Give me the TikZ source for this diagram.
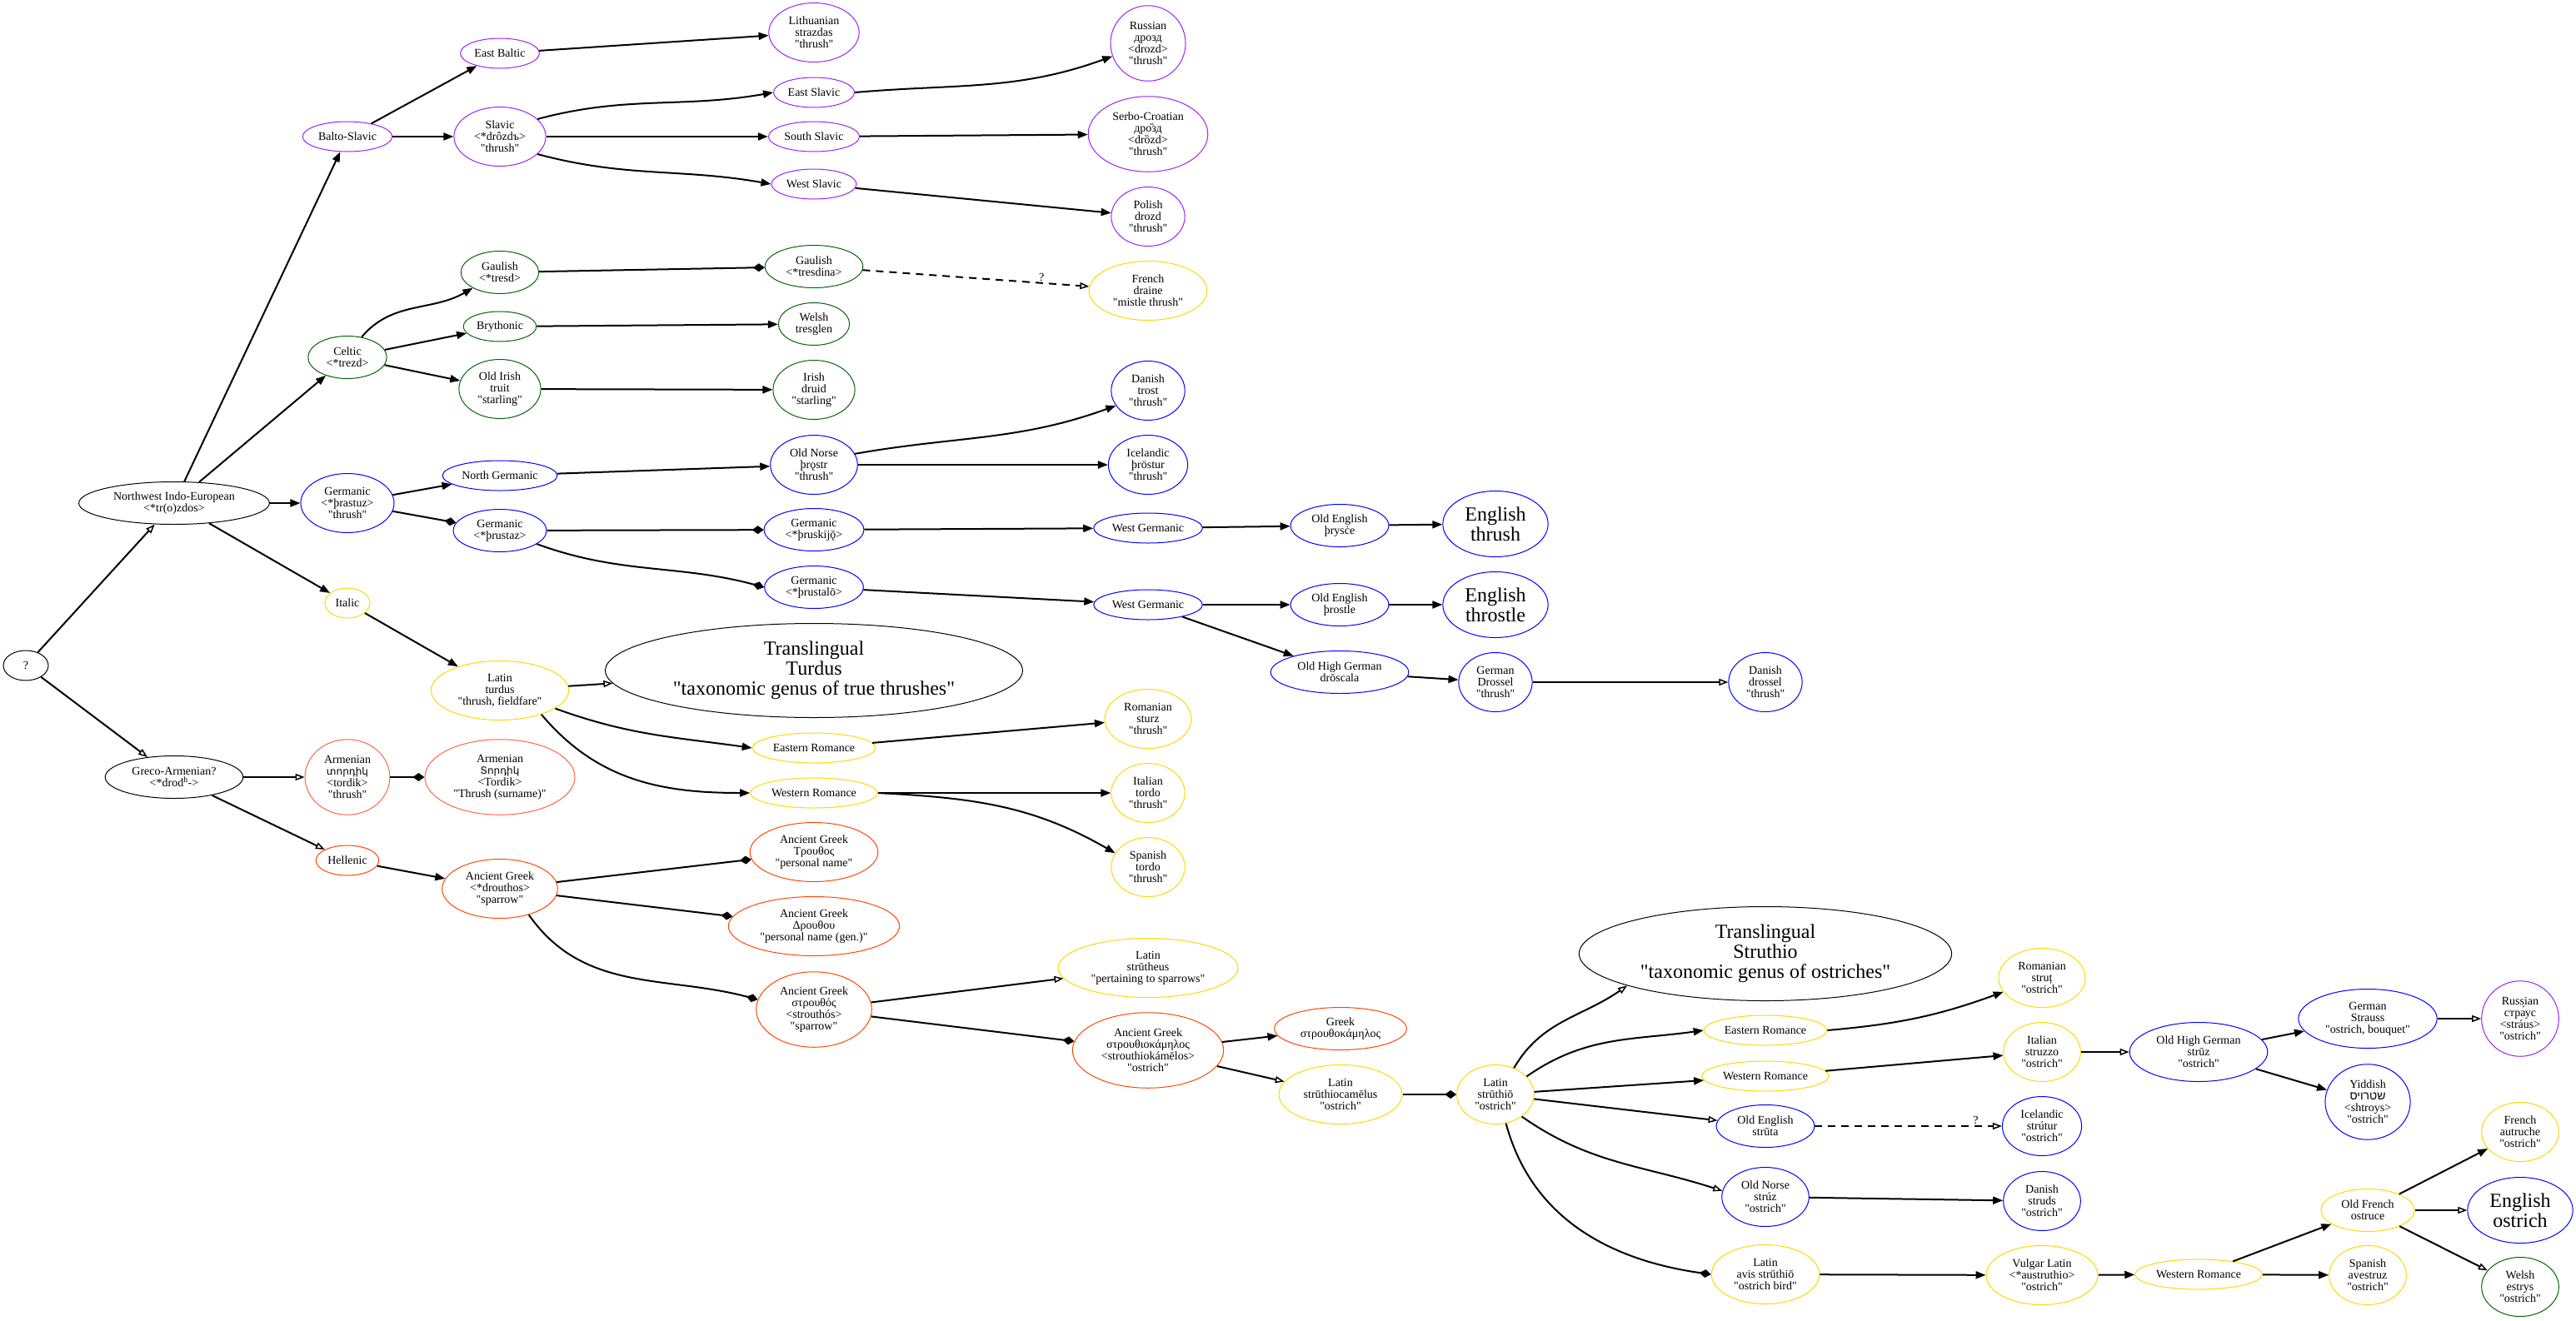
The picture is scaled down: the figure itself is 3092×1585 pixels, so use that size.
\documentclass[tikz,border=0pt]{standalone}
\usepackage{fontspec}
\setmainfont{Liberation Serif}[Ligatures=TeXOff]
\newfontfamily\armfont{DejaVu Sans}
\newfontfamily\hebfont[Script=Hebrew]{Liberation Sans}
\TeXXeTstate=1
\usetikzlibrary{shapes.geometric,arrows.meta}
\definecolor{cpur}{HTML}{A020F0}
\definecolor{cgrn}{HTML}{006400}
\definecolor{cblu}{HTML}{0000FF}
\definecolor{cyel}{HTML}{FFD700}
\definecolor{cred}{HTML}{FF4500}
\definecolor{ctom}{HTML}{FF6347}
\newcommand\armtxt[1]{{\armfont\fontsize{12}{14}\selectfont #1}}
\newcommand\hebtxt[1]{{\hebfont\beginR #1\endR}}
\tikzset{
 nd/.style={ellipse, draw, line width=1pt, align=center, inner ysep=0pt, inner xsep=8pt, minimum width=54pt, font=\fontsize{14}{14}\selectfont},
 la/.style={nd, inner xsep=3pt, minimum height=36pt},
 lb/.style={nd, minimum height=51pt},
 lc/.style={nd, minimum height=71pt},
 ld/.style={nd, minimum height=90.5pt},
 bb/.style={nd, minimum height=79pt, font=\fontsize{24}{24}\selectfont},
 bc/.style={nd, minimum height=113pt, font=\fontsize{24}{24}\selectfont},
 colP/.style={draw=cpur}, colG/.style={draw=cgrn}, colB/.style={draw=cblu},
 colY/.style={draw=cyel}, colR/.style={draw=cred}, colT/.style={draw=ctom}, colK/.style={draw=black},
 lnk/.style={line width=2pt},
 fa/.style={lnk, -{Triangle[length=12pt,width=9pt]}},
 ha/.style={lnk, -{Triangle[open,length=11pt,width=8pt,line width=1.5pt]}},
 da/.style={lnk, -{Diamond[length=14pt,width=10pt]}},
 dsh/.style={dash pattern=on 9pt off 7pt},
 qlbl/.style={font=\fontsize{14}{14}\selectfont, inner sep=1pt, above},
}
\begin{document}
\begin{tikzpicture}[x=1pt,y=1pt]
\useasboundingbox (0,0) rectangle (3092,-1585);
% column 0-2
\node[la,colK] (root) at (31,-799) {?};
\node[lb,colK] (nwie) at (209,-604) {Northwest Indo-European\\<*tr(o)zdos>};
\node[lb,colK] (grarm) at (209,-933) {Greco-Armenian?\\<*drod\textsuperscript{h}->};
\node[la,colP] (balsl) at (417,-164) {Balto-Slavic};
\node[lb,colG] (celtic) at (417,-429) {Celtic\\<*trezd>};
\node[lc,colB] (germ) at (417,-604) {Germanic\\<*þrastuz>\\"thrush"};
\node[la,colY] (italic) at (417,-724) {Italic};
\node[ld,colT] (arm) at (417,-933) {Armenian\\\armtxt{տորդիկ}\\<tordik>\\"thrush"};
\node[la,colR] (hell) at (417,-1033) {Hellenic};
% column 3
\node[la,colP] (ebalt) at (600,-64) {East Baltic};
\node[lc,colP] (slavic) at (600,-164) {Slavic\\<*drôzdъ>\\"thrush"};
\node[lb,colG] (gaul1) at (600,-327) {Gaulish\\<*tresd>};
\node[la,colG] (bryth) at (600,-392) {Brythonic};
\node[lc,colG] (oir) at (600,-467) {Old Irish\\truit\\"starling"};
\node[la,colB] (ngerm) at (600,-571) {North Germanic};
\node[lb,colB] (gthr) at (600,-637) {Germanic\\<*þrustaz>};
\node[lc,colY] (latturd) at (600,-829) {Latin\\turdus\\"thrush, fieldfare"};
\node[ld,colT] (armT) at (600,-933) {Armenian\\\armtxt{Տորդիկ}\\<Tordik>\\"Thrush (surname)"};
\node[lc,colR] (agdr) at (600,-1067) {Ancient Greek\\<*drouthos>\\"sparrow"};
% column 4
\node[lc,colP] (lith) at (977,-39) {Lithuanian\\strazdas\\"thrush"};
\node[la,colP] (eslav) at (977,-111) {East Slavic};
\node[la,colP] (sslav) at (977,-164) {South Slavic};
\node[la,colP] (wslav) at (977,-221) {West Slavic};
\node[lb,colG] (gaul2) at (977,-320) {Gaulish\\<*tresdina>};
\node[lb,colG] (welsh) at (977,-389) {Welsh\\tresglen};
\node[lc,colG] (irish) at (977,-468) {Irish\\druid\\"starling"};
\node[lc,colB] (onorse) at (977,-558) {Old Norse\\þrǫstr\\"thrush"};
\node[lb,colB] (gskij) at (977,-636) {Germanic\\<*þruskijǭ>};
\node[lb,colB] (gstal) at (977,-705) {Germanic\\<*þrustalō>};
\node[bc,colK] (turdus) at (977,-805) {Translingual\\Turdus\\"taxonomic genus of true thrushes"};
\node[la,colY] (eromA) at (977,-898) {Eastern Romance};
\node[la,colY] (wromA) at (977,-952) {Western Romance};
\node[lc,colR] (agtr) at (977,-1023) {Ancient Greek\\Τρουθος\\"personal name"};
\node[lc,colR] (agdrou) at (977,-1112) {Ancient Greek\\Δρουθου\\"personal name (gen.)"};
\node[ld,colR] (agstr) at (977,-1212) {Ancient Greek\\στρουθός\\<strouthós>\\"sparrow"};
% column 5
\node[ld,colP] (russ) at (1378,-52) {Russian\\дрозд\\<drozd>\\"thrush"};
\node[ld,colP] (serbo) at (1378,-161) {Serbo-Croatian\\дро̏зд\\<drȍzd>\\"thrush"};
\node[lc,colP] (polish) at (1378,-260) {Polish\\drozd\\"thrush"};
\node[lc,colY] (french) at (1378,-349) {French\\draine\\"mistle thrush"};
\node[lc,colB] (dantr) at (1378,-469) {Danish\\trost\\"thrush"};
\node[lc,colB] (icel) at (1378,-558) {Icelandic\\þröstur\\"thrush"};
\node[la,colB] (wg1) at (1378,-634) {West Germanic};
\node[la,colB] (wg2) at (1378,-726) {West Germanic};
\node[lc,colY] (rom) at (1378,-863) {Romanian\\sturz\\"thrush"};
\node[lc,colY] (ital) at (1378,-952) {Italian\\tordo\\"thrush"};
\node[lc,colY] (span) at (1378,-1041) {Spanish\\tordo\\"thrush"};
\node[lc,colY] (latstrth) at (1378,-1162) {Latin\\strūtheus\\"pertaining to sparrows"};
\node[ld,colR] (agstrk) at (1378,-1261) {Ancient Greek\\στρουθιοκάμηλος\\<strouthiokámēlos>\\"ostrich"};
% column 6-7
\node[lb,colB] (oe1) at (1608,-631) {Old English\\þrysċe};
\node[lb,colB] (oe2) at (1608,-726) {Old English\\þrostle};
\node[lb,colB] (ohg) at (1608,-807) {Old High German\\drōscala};
\node[lb,colR] (grk) at (1609,-1235) {Greek\\στρουθοκάμηλος};
\node[lc,colY] (latstrc) at (1609,-1314) {Latin\\strūthiocamēlus\\"ostrich"};
\node[bb,colB] (eng1) at (1795,-629) {English\\thrush};
\node[bb,colB] (eng2) at (1795,-726) {English\\throstle};
\node[lc,colB] (gerdr) at (1795,-819) {German\\Drossel\\"thrush"};
\node[lc,colY] (latstr) at (1795,-1314) {Latin\\strūthiō\\"ostrich"};
% column 8
\node[lc,colB] (dandr) at (2119,-819) {Danish\\drossel\\"thrush"};
\node[bc,colK] (struthio) at (2119,-1145) {Translingual\\Struthio\\"taxonomic genus of ostriches"};
\node[la,colY] (eromB) at (2119,-1237) {Eastern Romance};
\node[la,colY] (wromB) at (2119,-1292) {Western Romance};
\node[lb,colB] (oestr) at (2119,-1352) {Old English\\strūta};
\node[lc,colB] (onstr) at (2119,-1437) {Old Norse\\strúz\\"ostrich"};
\node[lc,colY] (avis) at (2119,-1530) {Latin\\avis strūthiō\\"ostrich bird"};
% column 9
\node[lc,colY] (romstr) at (2451,-1174) {Romanian\\struț\\"ostrich"};
\node[lc,colY] (itstr) at (2451,-1263) {Italian\\struzzo\\"ostrich"};
\node[lc,colB] (icestr) at (2451,-1352) {Icelandic\\strútur\\"ostrich"};
\node[lc,colB] (danstr) at (2451,-1442) {Danish\\struds\\"ostrich"};
\node[lc,colY] (vulg) at (2451,-1531) {Vulgar Latin\\<*austruthio>\\"ostrich"};
% column 10-12
\node[lc,colB] (ohgstr) at (2639,-1263) {Old High German\\strūz\\"ostrich"};
\node[la,colY] (wromC) at (2639,-1530) {Western Romance};
\node[lc,colB] (gerstr) at (2842,-1223) {German\\Strauss\\"ostrich, bouquet"};
\node[ld,colB] (yidd) at (2842,-1323) {Yiddish\\\hebtxt{שטרויס}\\<shtroys>\\"ostrich"};
\node[lb,colY] (ofr) at (2842,-1453) {Old French\\ostruce};
\node[lc,colY] (spav) at (2842,-1531) {Spanish\\avestruz\\"ostrich"};
\node[ld,colP] (russtr) at (3025,-1223) {Russian\\стра́ус\\<stráus>\\"ostrich"};
\node[lc,colY] (frau) at (3025,-1359) {French\\autruche\\"ostrich"};
\node[bb,colB] (engost) at (3025,-1453) {English\\ostrich};
\node[lc,colG] (welshe) at (3025,-1545) {Welsh\\estrys\\"ostrich"};
% edges
\draw[ha] (root) -- (nwie);
\draw[ha] (root) -- (grarm);
\draw[fa] (nwie) -- (balsl);
\draw[fa] (nwie) -- (celtic);
\draw[fa] (nwie) -- (germ);
\draw[fa] (nwie) -- (italic);
\draw[fa] (balsl) -- (ebalt);
\draw[fa] (balsl) -- (slavic);
\draw[fa] (ebalt) -- (lith);
\draw[fa] (slavic.25) to[out=15,in=190] (eslav.west);
\draw[fa] (slavic) -- (sslav);
\draw[fa] (slavic.-25) to[out=-15,in=170] (wslav.west);
\draw[fa] (eslav.east) to[out=5,in=200] (russ.200);
\draw[fa] (sslav) -- (serbo);
\draw[fa] (wslav) -- (polish);
\draw[fa] (celtic.55) to[out=50,in=210] (gaul1.210);
\draw[fa] (celtic) -- (bryth);
\draw[fa] (celtic) -- (oir);
\draw[da] (gaul1) -- (gaul2);
\draw[ha,dsh] (gaul2) -- node[qlbl,pos=0.79] {?} (french);
\draw[fa] (bryth) -- (welsh);
\draw[fa] (oir) -- (irish);
\draw[fa] (germ) -- (ngerm);
\draw[da] (germ) -- (gthr);
\draw[fa] (ngerm) -- (onorse);
\draw[fa] (onorse.15) to[out=10,in=200] (dantr.205);
\draw[fa] (onorse) -- (icel);
\draw[da] (gthr) -- (gskij);
\draw[da] (gthr.-20) to[out=-20,in=165] (gstal.west);
\draw[fa] (gskij) -- (wg1);
\draw[fa] (gstal) -- (wg2);
\draw[fa] (wg1) -- (oe1);
\draw[fa] (oe1) -- (eng1);
\draw[fa] (wg2) -- (oe2);
\draw[fa] (oe2) -- (eng2);
\draw[fa] (wg2) -- (ohg);
\draw[fa] (ohg) -- (gerdr);
\draw[ha] (gerdr) -- (dandr);
\draw[fa] (italic) -- (latturd);
\draw[ha] (latturd) -- (turdus);
\draw[fa] (latturd.-18) to[out=-20,in=172] (eromA.west);
\draw[fa] (latturd.-30) to[out=-50,in=180] (wromA.west);
\draw[fa] (eromA) -- (rom);
\draw[fa] (wromA) -- (ital);
\draw[fa] (wromA.east) to[out=-3,in=150] (span.157);
\draw[ha] (grarm) -- (arm);
\draw[ha] (grarm) -- (hell);
\draw[da] (arm) -- (armT);
\draw[fa] (hell) -- (agdr);
\draw[da] (agdr) -- (agtr);
\draw[da] (agdr) -- (agdrou);
\draw[da] (agdr.-42) to[out=-55,in=165] (agstr.170);
\draw[ha] (agstr) -- (latstrth);
\draw[da] (agstr) -- (agstrk);
\draw[fa] (agstrk) -- (grk);
\draw[ha] (agstrk) -- (latstrc);
\draw[da] (latstrc) -- (latstr);
\draw[ha] (latstr.55) to[out=60,in=215] (struthio.193);
\draw[fa] (latstr.30) to[out=35,in=188] (eromB.west);
\draw[fa] (latstr) -- (wromB);
\draw[ha] (latstr) -- (oestr);
\draw[ha] (latstr.-40) to[out=-35,in=162] (onstr.172);
\draw[da] (latstr.-70) to[out=-75,in=172] (avis.west);
\draw[fa] (eromB.east) to[out=5,in=200] (romstr.200);
\draw[fa] (wromB) -- (itstr);
\draw[ha,dsh] (oestr) -- node[qlbl,pos=0.86] {?} (icestr);
\draw[fa] (onstr) -- (danstr);
\draw[fa] (avis) -- (vulg);
\draw[ha] (itstr) -- (ohgstr);
\draw[fa] (vulg) -- (wromC);
\draw[fa] (ohgstr) -- (gerstr);
\draw[fa] (ohgstr) -- (yidd);
\draw[ha] (gerstr) -- (russtr);
\draw[fa] (wromC) -- (ofr);
\draw[fa] (wromC) -- (spav);
\draw[fa] (ofr) -- (frau);
\draw[ha] (ofr) -- (engost);
\draw[ha] (ofr) -- (welshe);
\end{tikzpicture}
\end{document}
